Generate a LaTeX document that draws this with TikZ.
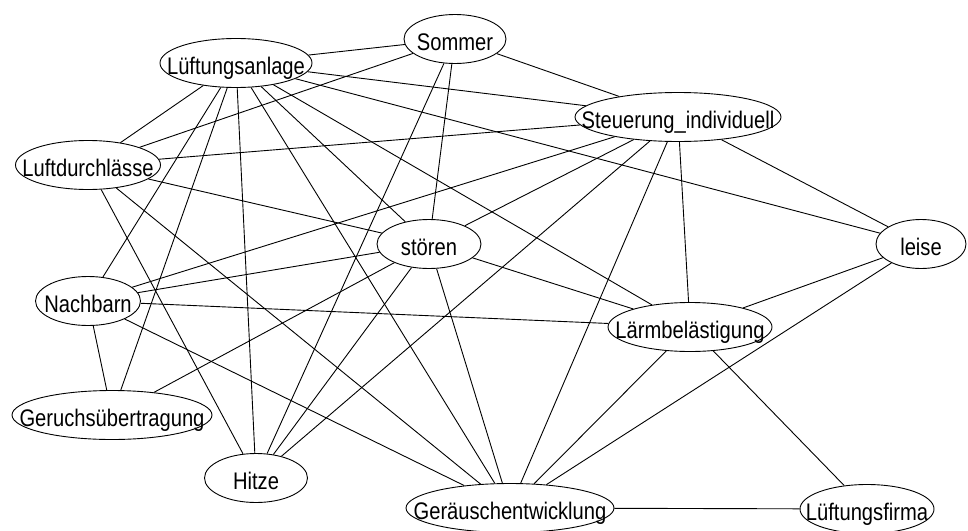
\documentclass[tikz,border=0pt]{standalone}
\usepackage{fontspec}
\setmainfont{Liberation Sans}[FakeStretch=0.84]
\usetikzlibrary{shapes.geometric,backgrounds}
\begin{document}
\begin{tikzpicture}[x=1pt,y=-1pt,
  concept/.style={ellipse,draw,line width=0.9pt,fill=white,inner sep=0pt,
    minimum height=49pt,text height=22pt,text depth=0pt,
    font=\fontsize{24}{28}\selectfont},
  link/.style={line width=0.9pt}]
\useasboundingbox (0,0) rectangle (968,530);

% concepts
\node[concept,minimum width=102pt] (som) at (455,39)  {\makebox[0pt]{Sommer}};
\node[concept,minimum width=152pt] (lan) at (236,63)  {\makebox[0pt]{Lüftungsanlage}};
\node[concept,minimum width=206pt] (ste) at (678,117) {\makebox[0pt]{Steuerung\_individuell}};
\node[concept,minimum width=145pt] (lud) at (88,165)  {\makebox[0pt]{Luftdurchlässe}};
\node[concept,minimum width=104pt] (sto) at (429,244) {\makebox[0pt]{stören}};
\node[concept,minimum width=90pt]  (lei) at (921,244) {\makebox[0pt]{leise}};
\node[concept,minimum width=105pt] (nac) at (88,301)  {\makebox[0pt]{Nachbarn}};
\node[concept,minimum width=164pt] (lae) at (690,327) {\makebox[0pt]{Lärmbelästigung}};
\node[concept,minimum width=200pt] (ger) at (112,415) {\makebox[0pt]{Geruchsübertragung}};
\node[concept,minimum width=103pt] (hit) at (256,478) {\makebox[0pt]{Hitze}};
\node[concept,minimum width=208pt] (gen) at (510,508) {\makebox[0pt]{Geräuschentwicklung}};
\node[concept,minimum width=134pt] (lfi) at (867,509) {\makebox[0pt]{Lüftungsfirma}};

% associations
\begin{pgfonlayer}{background}
\draw[link] (lan) -- (som);
\draw[link] (lan) -- (ste);
\draw[link] (lan) -- (lei);
\draw[link] (lan) -- (lae);
\draw[link] (lan) -- (sto);
\draw[link] (lan) -- (gen);
\draw[link] (lan) -- (hit);
\draw[link] (lan) -- (ger);
\draw[link] (lan) -- (nac);
\draw[link] (lan) -- (lud);
\draw[link] (som) -- (lud);
\draw[link] (som) -- (ste);
\draw[link] (som) -- (sto);
\draw[link] (som) -- (hit);
\draw[link] (ste) -- (lud);
\draw[link] (ste) -- (lei);
\draw[link] (ste) -- (nac);
\draw[link] (ste) -- (sto);
\draw[link] (ste) -- (hit);
\draw[link] (ste) -- (gen);
\draw[link] (ste) -- (lae);
\draw[link] (lud) -- (sto);
\draw[link] (lud) -- (hit);
\draw[link] (lud) -- (gen);
\draw[link] (sto) -- (nac);
\draw[link] (sto) -- (lae);
\draw[link] (sto) -- (hit);
\draw[link] (sto) -- (gen);
\draw[link] (sto) -- (ger);
\draw[link] (nac) -- (lae);
\draw[link] (nac) -- (ger);
\draw[link] (nac) -- (gen);
\draw[link] (lae) -- (lei);
\draw[link] (lae) -- (gen);
\draw[link] (lae) -- (lfi);
\draw[link] (lei) -- (gen);
\draw[link] (gen) -- (lfi);
\end{pgfonlayer}
\end{tikzpicture}
\end{document}
